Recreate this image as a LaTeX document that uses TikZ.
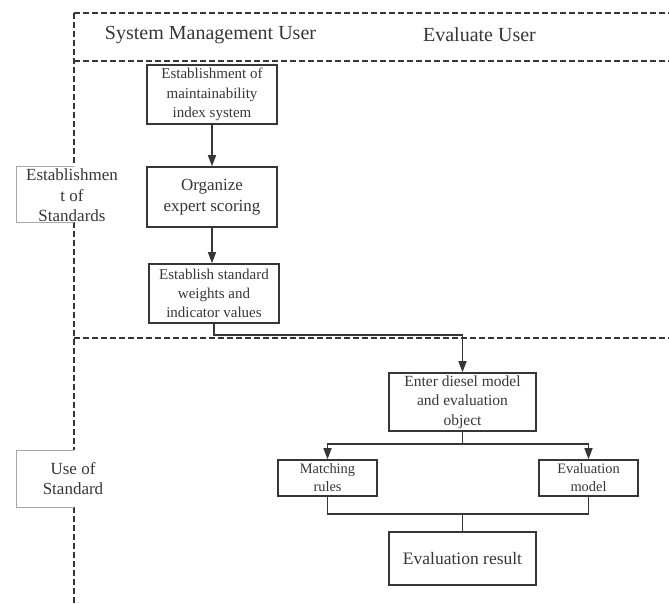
\documentclass[tikz,border=0pt]{standalone}
\usepackage{fontspec}
\setmainfont{Liberation Serif}
\usetikzlibrary{arrows.meta}

\definecolor{inkgray}{HTML}{363636}
\definecolor{framegray}{HTML}{A8A8A8}

\tikzset{
    procbox/.style={draw=inkgray, line width=1.6pt, align=center, inner sep=0pt, text=inkgray},
    lanetext/.style={align=center, text=inkgray, font={\fontsize{17}{20.5}\selectfont}},
    laneline/.style={draw=inkgray, line width=1.6pt, dash pattern=on 6pt off 3pt},
    flow/.style={draw=inkgray, line width=1.5pt},
    flowarrow/.style={flow, -{Triangle[length=11pt,width=8pt]}}
}

\begin{document}
\begin{tikzpicture}[x=1pt, y=-1pt]
        \useasboundingbox (0,0) rectangle (669,603);

        % swimlane frame
        \draw[laneline] (74,13) -- (669,13);
        \draw[laneline] (74,61) -- (669,61);
        \draw[laneline] (74,338) -- (669,338);
        \draw[laneline] (74,13) -- (74,166);
        \draw[laneline] (74,222) -- (74,450);
        \draw[laneline] (74,507) -- (74,603);

        \node[text=inkgray, font={\fontsize{20}{24}\selectfont}] (mgruser) at (210.5,35) {System Management User};
        \node[text=inkgray, font={\fontsize{20}{24}\selectfont}] (evaluser) at (479.5,35) {Evaluate User};

        % stage labels
        \draw[framegray, line width=0.8pt] (74,166) -| (16,222) -- (74,222);
        \node[lanetext] (stagedef) at (72,195.5) {Establishmen\\t of\\Standards};
        \draw[framegray, line width=0.8pt] (74,450) -| (16,507) -- (74,507);
        \node[lanetext] (stageuse) at (73,478.5) {Use of\\Standard};

        % boxes
        \node[procbox, minimum width=130pt, minimum height=59pt, font={\fontsize{15}{19.5}\selectfont}] (indexsys) at (212,94.5) {Establishment of\\maintainability\\index system};
        \node[procbox, minimum width=130pt, minimum height=60pt, font={\fontsize{17}{21}\selectfont}] (scoring) at (212,197) {Organize\\expert scoring};
        \node[procbox, minimum width=130pt, minimum height=59pt, font={\fontsize{15}{19}\selectfont}] (weights) at (214,293.5) {Establish standard\\weights and\\indicator values};
        \node[procbox, minimum width=147pt, minimum height=58pt, font={\fontsize{15.5}{19.5}\selectfont}] (enter) at (462.5,402) {Enter diesel model\\and evaluation\\object};
        \node[procbox, minimum width=99pt, minimum height=36pt, font={\fontsize{14.4}{18}\selectfont}] (rules) at (327.5,478) {Matching\\rules};
        \node[procbox, minimum width=99pt, minimum height=36pt, font={\fontsize{14.4}{18}\selectfont}] (evalmodel) at (588.5,478) {Evaluation\\model};
        \node[procbox, minimum width=147pt, minimum height=53pt, font={\fontsize{17.5}{21}\selectfont}] (result) at (462.5,558.5) {Evaluation result};

        \coordinate (split) at (462.5,444);
        \coordinate (join) at (462.5,514);

        % connectors
        \draw[flowarrow] (indexsys) -- (scoring);
        \draw[flowarrow] (scoring.south) -- (scoring.south |- weights.north);
        \draw[flowarrow] (weights.south) -- ++(0,11) -| (enter.north);
        \draw[flow] (enter.south) -- (split);
        \draw[flowarrow] (split) -| (rules.north);
        \draw[flowarrow] (split) -| (evalmodel.north);
        \draw[flow] (rules.south) |- (join) -| (evalmodel.south);
        \draw[flow] (join) -- (result.north);
    \end{tikzpicture}
\end{document}
